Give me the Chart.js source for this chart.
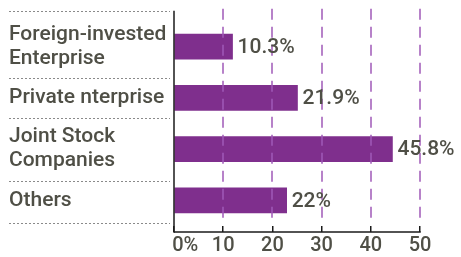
<!DOCTYPE html>
<html>
<head>
<meta charset="utf-8">
<script src="https://cdn.jsdelivr.net/npm/chart.js@4/dist/chart.umd.min.js"></script>
<style>
  html, body { margin: 0; padding: 0; background: #ffffff; }
  #wrap { width: 461px; height: 257px; position: relative; }
</style>
</head>
<body>
<div id="wrap"><canvas id="c"></canvas></div>
<script>
// ---- data ----
const categories = [
  ['Foreign-invested', 'Enterprise'],
  'Private nterprise',
  ['Joint Stock', 'Companies'],
  'Others'
];
const barLengths = [11.9, 25.1, 44.4, 22.9];
const valueLabels = ['10.3%', '21.9%', '45.8%', '22%'];
const xTicks = [0, 10, 20, 30, 40, 50];
const xTickLabels = ['\u2007\u20070%', '10', '20', '30', '40', '50'];

// ---- style ----
const FONT = 'Roboto, "DejaVu Sans", sans-serif';
const TEXT = '#4f4f46';
const BAR = '#7f2f8d';
const GRID = '#a05ab8';
const LINE_H = 24;

const decor = {
  id: 'decor',
  afterDraw(chart) {
    const ctx = chart.ctx;
    const xs = chart.scales.x, ys = chart.scales.y;
    const area = chart.chartArea;
    const n = categories.length;
    // label extents
    const ext = categories.map((c, i) => {
      const lines = Array.isArray(c) ? c.length : 1;
      const ctr = ys.getPixelForTick(i);
      return [ctr - lines * LINE_H / 2, ctr + lines * LINE_H / 2];
    });
    const seps = [ext[0][0] - 12];
    for (let i = 0; i < n - 1; i++) seps.push((ext[i][1] + ext[i + 1][0]) / 2);
    seps.push(ext[n - 1][1] + 11);
    const baseY = area.bottom + 6;
    const left = ys.left, x0 = xs.getPixelForValue(0);

    ctx.save();
    // dotted separators in label area
    ctx.strokeStyle = '#8a8a8a';
    ctx.lineWidth = 1;
    ctx.setLineDash([2, 2]);
    seps.forEach(y => {
      const yy = Math.round(y) + 0.5;
      ctx.beginPath(); ctx.moveTo(left, yy); ctx.lineTo(x0 - 4, yy); ctx.stroke();
    });
    // dashed purple gridlines
    ctx.strokeStyle = GRID;
    ctx.lineWidth = 1.5;
    ctx.setLineDash([11, 7]);
    xTicks.forEach(v => {
      if (v === 0) return;
      const x = Math.round(xs.getPixelForValue(v));
      ctx.beginPath(); ctx.moveTo(x, seps[0] - 2); ctx.lineTo(x, area.bottom - 4); ctx.stroke();
    });
    // axes lines
    ctx.setLineDash([]);
    ctx.strokeStyle = '#1a1a1a';
    ctx.lineWidth = 1.5;
    ctx.beginPath(); ctx.moveTo(x0, seps[0]); ctx.lineTo(x0, baseY + 0.75); ctx.stroke();
    ctx.beginPath(); ctx.moveTo(x0, baseY); ctx.lineTo(xs.getPixelForValue(xTicks[xTicks.length - 1]) + 0.75, baseY); ctx.stroke();
    // value labels
    ctx.fillStyle = TEXT;
    ctx.font = '500 21px ' + FONT;
    ctx.textAlign = 'left';
    ctx.textBaseline = 'middle';
    const meta = chart.getDatasetMeta(0);
    meta.data.forEach((bar, i) => {
      ctx.fillText(valueLabels[i], bar.x + 5, bar.y + 1);
    });
    ctx.restore();
  }
};

new Chart(document.getElementById('c'), {
  type: 'bar',
  data: {
    labels: categories,
    datasets: [{
      data: barLengths,
      backgroundColor: BAR,
      borderWidth: 0,
      barThickness: 25
    }]
  },
  options: {
    indexAxis: 'y',
    responsive: true,
    maintainAspectRatio: false,
    animation: false,
    layout: { padding: { left: 9, right: 41, top: 21, bottom: 0 } },
    plugins: { legend: { display: false }, tooltip: { enabled: false } },
    scales: {
      x: {
        type: 'linear',
        min: 0, max: 50,
        afterBuildTicks(scale) { scale.ticks = xTicks.map(v => ({ value: v })); },
        afterFit(scale) { scale.height = 31; },
        ticks: {
          callback: (v) => xTickLabels[xTicks.indexOf(v)],
          color: TEXT,
          font: { family: FONT, size: 20, weight: '500' },
          padding: 2,
          maxRotation: 0,
          autoSkip: false
        },
        grid: { display: true, drawOnChartArea: false, drawTicks: true, tickLength: 6, color: '#1a1a1a', lineWidth: 1.5 },
        border: { display: false }
      },
      y: {
        afterFit(scale) { scale.width = 165; },
        ticks: {
          color: TEXT,
          crossAlign: 'far',
          font: { family: FONT, size: 21, weight: '500', lineHeight: 1.15 },
          padding: 6,
          autoSkip: false
        },
        grid: { display: false },
        border: { display: false }
      }
    }
  },
  plugins: [decor]
});
</script>
</body>
</html>
